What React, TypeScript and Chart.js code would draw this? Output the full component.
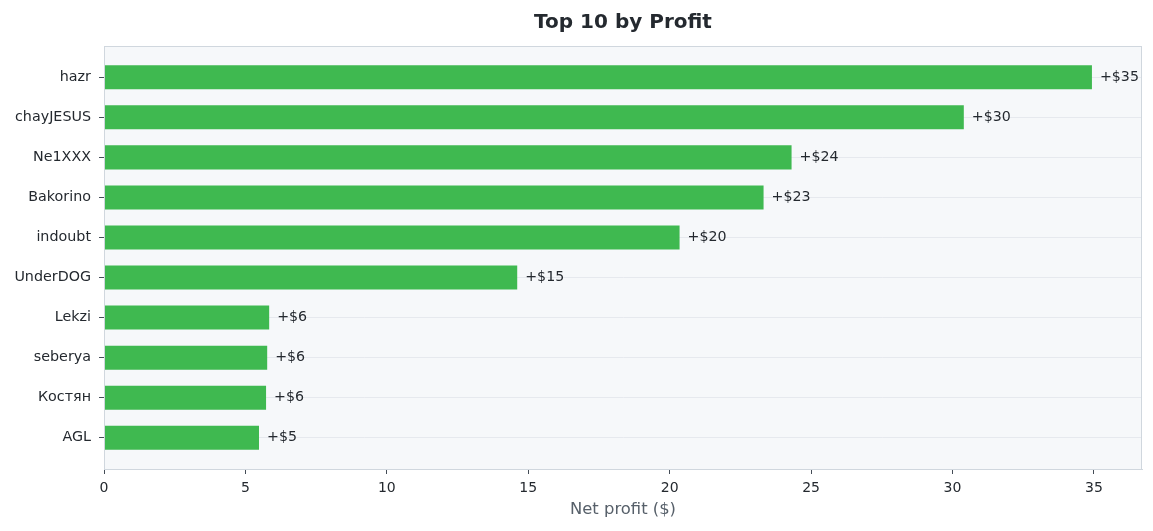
import { useEffect, useRef } from 'react';
import { Chart, registerables } from 'chart.js';

Chart.register(...registerables);

const players = ['hazr', 'chayJESUS', 'Ne1XXX', 'Bakorino', 'indoubt', 'UnderDOG', 'Lekzi', 'seberya', 'Костян', 'AGL'];
const profits = [34.93, 30.4, 24.31, 23.32, 20.35, 14.61, 5.84, 5.77, 5.73, 5.48];
const profitLabels = ['+$35', '+$30', '+$24', '+$23', '+$20', '+$15', '+$6', '+$6', '+$6', '+$5'];
const xTicks = [0, 5, 10, 15, 20, 25, 30, 35];

const FONT = "'DejaVu Sans', sans-serif";
const TEXT = '#24292f';
const FRAME = '#d0d7de';

// plot background + frame on all four sides
const framePlugin = {
  id: 'frame',
  beforeDraw(chart: Chart) {
    const { ctx, chartArea: a } = chart;
    ctx.save();
    ctx.fillStyle = '#f6f8fa';
    ctx.fillRect(a.left, a.top, a.right - a.left, a.bottom - a.top);
    ctx.restore();
  },
  afterDraw(chart: Chart) {
    const { ctx, chartArea: a } = chart;
    ctx.save();
    ctx.strokeStyle = FRAME;
    ctx.lineWidth = 1;
    ctx.strokeRect(a.left + 0.5, a.top + 0.5, a.right - a.left - 1, a.bottom - a.top);
    ctx.restore();
  },
};

// "+$35" labels at the end of each bar
const valueLabels = {
  id: 'valueLabels',
  afterDatasetsDraw(chart: Chart) {
    const { ctx } = chart;
    const meta = chart.getDatasetMeta(0);
    ctx.save();
    ctx.font = `14.2px ${FONT}`;
    ctx.fillStyle = TEXT;
    ctx.textBaseline = 'middle';
    ctx.textAlign = 'left';
    meta.data.forEach((bar: any, i: number) => {
      ctx.fillText(profitLabels[i], bar.x + 8, bar.y);
    });
    ctx.restore();
  },
};

export default function App() {
  const canvasRef = useRef<HTMLCanvasElement>(null);
  const chartRef = useRef<Chart | null>(null);

  useEffect(() => {
    document.body.style.margin = '0';
    if (!canvasRef.current) return;
    if (chartRef.current) chartRef.current.destroy();

    chartRef.current = new Chart(canvasRef.current, {
      type: 'bar',
      data: {
        datasets: [
          {
            data: profits.map((v, i) => ({ x: v, y: i })),
            backgroundColor: '#3fb950',
            borderWidth: 0,
            barPercentage: 0.6,
            categoryPercentage: 1,
          },
        ],
      },
      options: {
        indexAxis: 'y',
        animation: false,
        responsive: true,
        maintainAspectRatio: false,
        layout: { padding: { left: 0, right: 11, top: 0, bottom: 0 } },
        plugins: {
          legend: { display: false },
          tooltip: { enabled: false },
          title: {
            display: true,
            fullSize: false,
            text: 'Top 10 by Profit',
            color: TEXT,
            font: { family: FONT, size: 20, weight: 'bold' },
            padding: { top: 11, bottom: 11 },
          },
        },
        scales: {
          x: {
            type: 'linear',
            min: 0,
            max: 36.7,
            afterBuildTicks: (scale: any) => {
              scale.ticks = xTicks.map((v) => ({ value: v }));
            },
            afterFit: (scale: any) => {
              scale.height = 62;
            },
            ticks: {
              color: TEXT,
              font: { family: FONT, size: 14 },
              padding: 6,
              includeBounds: false,
            },
            grid: {
              drawOnChartArea: false,
              drawTicks: true,
              tickLength: 5,
              tickColor: '#444c56',
            },
            border: { color: FRAME },
            title: {
              display: true,
              text: 'Net profit ($)',
              color: '#57606a',
              font: { family: FONT, size: 16.4 },
              padding: { top: 0, bottom: 11 },
            },
          },
          y: {
            type: 'linear',
            min: -0.78,
            max: 9.78,
            reverse: true,
            offset: false,
            afterBuildTicks: (scale: any) => {
              scale.ticks = players.map((_, i) => ({ value: i }));
            },
            afterFit: (scale: any) => {
              scale.width = 104;
            },
            ticks: {
              color: TEXT,
              font: { family: FONT, size: 14.3 },
              padding: 8,
              includeBounds: false,
              callback: (v: any) => players[v as number] ?? '',
            },
            grid: {
              offset: false,
              color: '#e6e9ee',
              drawTicks: true,
              tickLength: 5,
              tickColor: '#444c56',
            },
            border: { color: FRAME },
          },
        },
      },
      plugins: [framePlugin, valueLabels],
    } as any);

    return () => {
      if (chartRef.current) {
        chartRef.current.destroy();
        chartRef.current = null;
      }
    };
  }, []);

  return (
    <div style={{ position: 'relative', width: 1153, height: 531, background: '#ffffff' }}>
      <canvas ref={canvasRef}></canvas>
    </div>
  );
}
